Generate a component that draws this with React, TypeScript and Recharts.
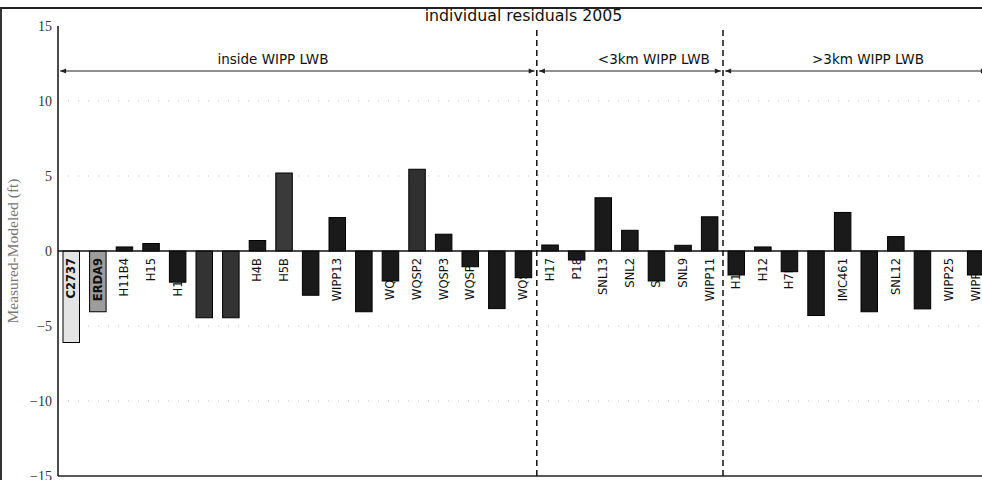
import React from 'react';
import { BarChart, Bar, XAxis, YAxis, CartesianGrid, ReferenceLine, ReferenceDot } from 'recharts';

const STATIONS = [
  'C2737', 'ERDA9', 'H11B4', 'H15', 'H19B0', 'H2B2', 'H3B2', 'H4B', 'H5B', 'H6B',
  'WIPP13', 'WIPP19', 'WQSP1', 'WQSP2', 'WQSP3', 'WQSP4', 'WQSP5', 'WQSP6',
  'H17', 'P18', 'SNL13', 'SNL2', 'SNL5', 'SNL9', 'WIPP11',
  'H10C', 'H12', 'H7B1', 'H9C', 'IMC461', 'SNL1', 'SNL12', 'SNL8', 'WIPP25', 'WIPP26',
];
const RESIDUALS = [
  -6.1, -4.05, 0.27, 0.5, -2.08, -4.45, -4.45, 0.7, 5.2, -2.95,
  2.23, -4.05, -2.0, 5.45, 1.12, -1.05, -3.84, -1.78,
  0.4, -0.6, 3.55, 1.38, -2.0, 0.38, 2.28,
  -1.6, 0.27, -1.38, -4.3, 2.57, -4.05, 0.96, -3.86, 0.0, -1.6,
];
const REGION_LABELS = ['inside WIPP LWB', '<3km WIPP LWB', '>3km WIPP LWB'];
const REGION_COUNTS = [18, 7, 10];
const REGION_LABEL_X = [7.58, 21.9, 29.95];
const Y_TICKS = [-15, -10, -5, 0, 5, 10, 15];
const ARROW_LEVEL = 12;
const LABEL_LEVEL = 12.8;
const TITLE = 'individual residuals 2005';

const FILLS: Record<string, string> = {
  C2737: '#e4e4e4',
  ERDA9: '#9c9c9c',
  H2B2: '#333333',
  H3B2: '#333333',
  H5B: '#3a3a3a',
  WQSP2: '#303030',
};
const LIGHT = new Set(['C2737', 'ERDA9']);

const data = STATIONS.map((s, i) => ({ idx: i, station: s, residual: RESIDUALS[i] }));

const breaks: number[] = [];
{
  let acc = 0;
  for (let i = 0; i < REGION_COUNTS.length - 1; i++) {
    acc += REGION_COUNTS[i];
    breaks.push(acc - 0.5);
  }
}
const regionBounds = REGION_COUNTS.map((c, i) => {
  const start = REGION_COUNTS.slice(0, i).reduce((a, b) => a + b, 0) - 0.5;
  return [start + 0.08, start + c - 0.08];
});

const BarShape = (props: any) => {
  const { x, y, width, height, payload } = props;
  const v = payload.residual;
  const y2 = y + height;
  const zeroY = v >= 0 ? Math.max(y, y2) : Math.min(y, y2);
  const top = Math.min(y, y2);
  const h = Math.abs(height);
  const cx = x + width / 2;
  const ly = zeroY + 7;
  const label = (
    <text
      x={cx}
      y={ly}
      transform={`rotate(-90 ${cx} ${ly})`}
      textAnchor="end"
      dominantBaseline="central"
      fontFamily="DejaVu Sans"
      fontSize={11.5}
      fill="#111"
      fontWeight={LIGHT.has(payload.station) ? 'bold' : 'normal'}
    >
      {payload.station}
    </text>
  );
  const rect = (
    <rect x={x} y={top} width={width} height={h} fill={FILLS[payload.station] || '#1a1a1a'} stroke="#000" strokeWidth={1} />
  );
  return LIGHT.has(payload.station) ? (
    <g>
      {rect}
      {label}
    </g>
  ) : (
    <g>
      {label}
      {rect}
    </g>
  );
};

const ArrowShape = (props: any) => {
  const { x1, y1, x2, y2 } = props;
  const a = 6;
  return (
    <g>
      <line x1={x1} y1={y1} x2={x2} y2={y2} stroke="#222" strokeWidth={1} />
      <polygon points={`${x1},${y1} ${x1 + a},${y1 - 2.5} ${x1 + a},${y1 + 2.5}`} fill="#222" />
      <polygon points={`${x2},${y2} ${x2 - a},${y2 - 2.5} ${x2 - a},${y2 + 2.5}`} fill="#222" />
    </g>
  );
};

export default function App() {
  return (
    <div style={{ position: 'absolute', left: 0, top: 0, width: 982, height: 480, overflow: 'hidden', background: '#fff' }}>
      <div style={{ position: 'absolute', left: 0, top: 7, width: 982, height: 473, borderTop: '2px solid #222', borderLeft: '2px solid #333', boxSizing: 'border-box' }} />
      <div style={{ position: 'absolute', left: 0, top: 0 }}>
        <BarChart width={1000} height={480} data={data} margin={{ top: 26, right: 11, bottom: 4, left: 0 }}>
          <CartesianGrid vertical={false} horizontalValues={[-10, -5, 5, 10]} stroke="#bbb" strokeDasharray="1 9" />
          <XAxis dataKey="idx" type="number" domain={[-0.5, 34.5]} hide allowDataOverflow />
          <YAxis
            type="number"
            domain={[-15, 15]}
            ticks={Y_TICKS}
            width={58}
            interval={0}
            axisLine={{ stroke: '#111', strokeWidth: 1.5 }}
            tickLine={false}
            tickSize={2}
            tickMargin={4}
            tickFormatter={(v: number) => (v < 0 ? `\u2212${Math.abs(v)}` : `${v}`)}
            tick={{ fontFamily: 'Liberation Serif', fontSize: 14, fill: '#333' }}
            label={{ value: 'Measured-Modeled (ft)', angle: -90, position: 'insideLeft', offset: 12, style: { fontFamily: 'Liberation Serif', fontSize: 15.5, fill: '#777', textAnchor: 'middle' } }}
          />
          <ReferenceLine y={-15} stroke="#222" strokeWidth={1.5} />
          <ReferenceLine y={0} stroke="#111" strokeWidth={1.5} />
          <Bar dataKey="residual" barSize={16.5} shape={BarShape} isAnimationActive={false} />
          {breaks.map((b) => (
            <ReferenceLine key={b} x={b} stroke="#111" strokeWidth={1.5} strokeDasharray="6 4" />
          ))}
          {regionBounds.map((r, i) => (
            <ReferenceLine
              key={`arr${i}`}
              segment={[{ x: r[0], y: ARROW_LEVEL }, { x: r[1], y: ARROW_LEVEL }]}
              ifOverflow="visible"
              shape={ArrowShape}
            />
          ))}
          {REGION_LABELS.map((t, i) => (
            <ReferenceDot
              key={t}
              x={REGION_LABEL_X[i]}
              y={LABEL_LEVEL}
              r={0}
              fill="none"
              stroke="none"
              ifOverflow="visible"
              label={{ value: t, position: 'center', style: { fontFamily: 'DejaVu Sans', fontSize: 13.5, fill: '#111' } }}
            />
          ))}
          <ReferenceDot
            x={17}
            y={15.7}
            r={0}
            fill="none"
            stroke="none"
            ifOverflow="visible"
            label={{ value: TITLE, position: 'center', style: { fontFamily: 'DejaVu Sans', fontSize: 15.8, fill: '#111' } }}
          />
        </BarChart>
      </div>
    </div>
  );
}
